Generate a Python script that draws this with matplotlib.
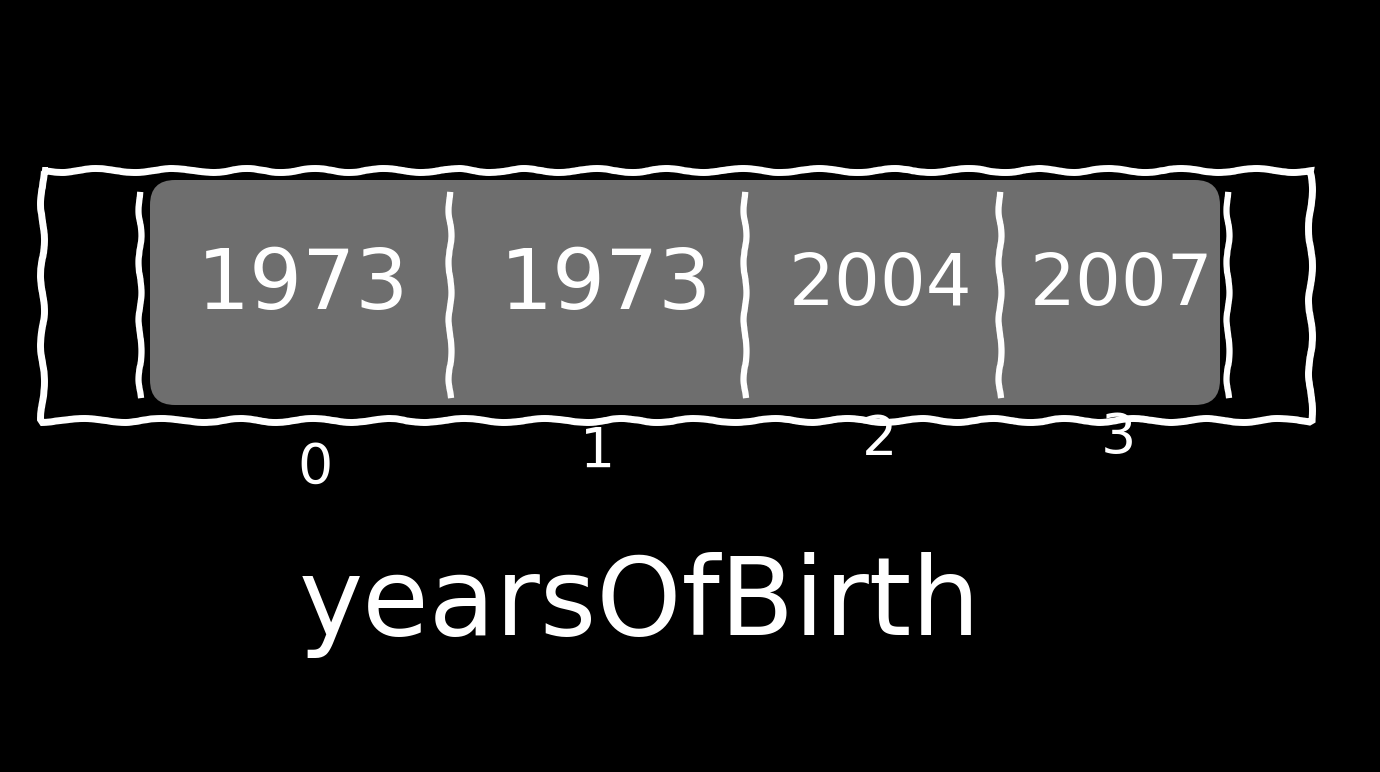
import matplotlib
matplotlib.use("Agg")
import matplotlib.pyplot as plt
from matplotlib.patches import Rectangle, FancyBboxPatch

years = [1973, 1973, 2004, 2007]
indices = ["0", "1", "2", "3"]
array_name = "yearsOfBirth"

fig = plt.figure(figsize=(13.8, 7.72), dpi=100, facecolor="black")
ax = fig.add_axes([0, 0, 1, 1])
ax.set_facecolor("black")
ax.set_xlim(0, 1380)
ax.set_ylim(772, 0)
ax.axis("off")

n = len(years)
bounds = [140, 450, 745, 1000, 1228]

ax.add_patch(FancyBboxPatch((150, 180), 1070, 225, boxstyle="round,pad=0,rounding_size=25",
                            facecolor="#6e6e6e", edgecolor="none", zorder=1))
outer = Rectangle((42, 170), 1268, 250, facecolor="none", edgecolor="white", lw=5, zorder=3)
outer.set_sketch_params(2, 80, 2)
ax.add_patch(outer)
for b in bounds:
    l, = ax.plot([b, b], [195, 395], color="white", lw=4.5, zorder=3)
    l.set_sketch_params(1.5, 60, 2)

centers = [(bounds[i] + bounds[i + 1]) / 2 for i in range(n)]
sizes = [60, 60, 52, 52]
for c, v, s in zip(centers, years, sizes):
    ax.text(c + 8, 285, str(v), color="white", fontsize=s, ha="center", va="center",
            family="DejaVu Sans", zorder=4)
idx_x = [315, 598, 880, 1118]
idx_y = [468, 452, 440, 438]
for x, y, t in zip(idx_x, idx_y, indices):
    ax.text(x, y, t, color="white", fontsize=40, ha="center", va="center", zorder=4)

ax.text(640, 605, array_name, color="white", fontsize=78, ha="center", va="center", zorder=4)

fig.savefig("out.png", dpi=100, facecolor="black")
